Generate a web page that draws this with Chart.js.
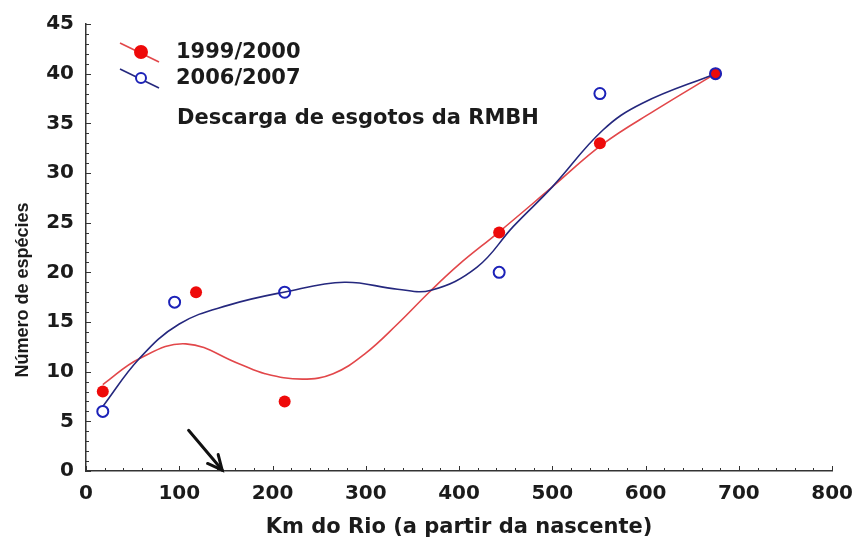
<!DOCTYPE html>
<html>
<head>
<meta charset="utf-8">
<script src="https://cdn.jsdelivr.net/npm/chart.js@4.4.1/dist/chart.umd.min.js"></script>
<style>
  html, body { margin: 0; padding: 0; background: #fff; }
  #wrap { width: 864px; height: 538px; }
</style>
</head>
<body>
<div id="wrap"><canvas id="grafico" width="864" height="538"></canvas></div>
<script>
// pontos observados (km do rio x numero de especies)
const kmRed = [18, 118, 213, 443, 551, 675];
const especiesRed = [8, 18, 7, 24, 33, 40];
const kmBlue = [18, 95, 213, 443, 551, 675];
const especiesBlue = [6, 17, 18, 20, 38, 40];

// curvas de ajuste
const curveKmRed = [18, 57, 107, 164, 192, 232, 265, 299, 334, 368, 400, 442, 500, 554, 610, 675];
const curveRed = [8.7, 11.3, 12.8, 10.8, 9.8, 9.25, 9.8, 11.8, 14.8, 18.0, 20.8, 24.0, 28.6, 32.9, 36.3, 40.0];
const curveKmBlue = [18, 57, 100, 153, 212, 277, 334, 370, 419, 458, 500, 554, 596, 675];
const curveBlue = [6.5, 11.3, 14.8, 16.7, 18.0, 19.0, 18.3, 18.2, 20.5, 24.6, 28.6, 34.3, 37.0, 40.0];

const seriesLabels = ['1999/2000', '2006/2007'];
const noteText = 'Descarga de esgotos da RMBH';
const xTitle = 'Km do Rio (a partir da nascente)';
const yTitle = 'Número de espécies';
const arrowFrom = [110, 4.1];
const arrowTo = [146, 0.1];

const RED = '#ee0a0a';
const RED_LINE = '#e2474a';
const BLUE = '#1c22b8';
const BLUE_LINE = '#25287e';
const INK = '#1b1b1b';

function pts(xs, ys) { return xs.map(function (x, i) { return { x: x, y: ys[i] }; }); }

const decor = {
  id: 'decor',
  beforeDatasetsDraw(chart) {
    const ctx = chart.ctx, xs = chart.scales.x, ys = chart.scales.y;
    ctx.save();
    ctx.strokeStyle = '#333';
    ctx.lineWidth = 1;
    // marcas para dentro
    for (let v = 0; v <= 800; v += 20) {
      const px = Math.round(xs.getPixelForValue(v)) + 0.5;
      const len = v % 100 === 0 ? 5 : 3;
      ctx.beginPath(); ctx.moveTo(px, ys.bottom); ctx.lineTo(px, ys.bottom - len); ctx.stroke();
    }
    for (let v = 0; v <= 45; v += 1) {
      const py = Math.round(ys.getPixelForValue(v)) + 0.5;
      const len = v % 5 === 0 ? 5 : 3;
      ctx.beginPath(); ctx.moveTo(xs.left, py); ctx.lineTo(xs.left + len, py); ctx.stroke();
    }
    ctx.restore();
  },
  afterDraw(chart) {
    const ctx = chart.ctx, xs = chart.scales.x, ys = chart.scales.y, a = chart.chartArea;
    ctx.save();
    // legenda
    const items = [
      { y: a.top + 28, line: RED_LINE, fill: RED, stroke: RED, r: 6 },
      { y: a.top + 54, line: BLUE_LINE, fill: '#fff', stroke: BLUE, r: 5 }
    ];
    items.forEach(function (it, i) {
      const cx = a.left + 55;
      ctx.strokeStyle = it.line; ctx.lineWidth = 1.6;
      ctx.beginPath(); ctx.moveTo(cx - 21, it.y - 9); ctx.lineTo(cx + 18, it.y + 10); ctx.stroke();
      ctx.beginPath(); ctx.arc(cx, it.y, it.r, 0, Math.PI * 2);
      ctx.fillStyle = it.fill; ctx.fill();
      ctx.lineWidth = 2; ctx.strokeStyle = it.stroke; ctx.stroke();
      ctx.fillStyle = INK;
      ctx.font = 'bold 21px "DejaVu Sans"';
      ctx.textBaseline = 'middle';
      ctx.textAlign = 'left';
      ctx.fillText(seriesLabels[i], a.left + 90, it.y + 1);
    });
    ctx.font = 'bold 21px "DejaVu Sans"';
    ctx.textBaseline = 'alphabetic';
    ctx.fillText(noteText, a.left + 91, a.top + 100);

    // titulo do eixo y
    ctx.save();
    ctx.translate(23, 290);
    ctx.rotate(-Math.PI / 2);
    ctx.font = 'bold 18px "Liberation Sans"';
    ctx.textAlign = 'center';
    ctx.textBaseline = 'middle';
    ctx.fillText(yTitle, 0, 0);
    ctx.restore();

    // seta
    const x0 = xs.getPixelForValue(arrowFrom[0]), y0 = ys.getPixelForValue(arrowFrom[1]);
    const x1 = xs.getPixelForValue(arrowTo[0]), y1 = ys.getPixelForValue(arrowTo[1]);
    const ang = Math.atan2(y1 - y0, x1 - x0);
    ctx.strokeStyle = '#111'; ctx.lineWidth = 3; ctx.lineCap = 'round';
    ctx.beginPath(); ctx.moveTo(x0, y0); ctx.lineTo(x1, y1); ctx.stroke();
    ctx.beginPath();
    ctx.moveTo(x1 - 16 * Math.cos(ang - 0.45), y1 - 16 * Math.sin(ang - 0.45));
    ctx.lineTo(x1, y1);
    ctx.lineTo(x1 - 16 * Math.cos(ang + 0.45), y1 - 16 * Math.sin(ang + 0.45));
    ctx.stroke();
    ctx.restore();
  }
};

new Chart(document.getElementById('grafico').getContext('2d'), {
  type: 'scatter',
  data: {
    datasets: [
      { label: seriesLabels[1], data: pts(kmBlue, especiesBlue), pointRadius: 5.5, pointBorderWidth: 2,
        pointBackgroundColor: 'rgba(255,255,255,0)', pointBorderColor: BLUE, showLine: false },
      { label: seriesLabels[0], data: pts(kmRed, especiesRed), pointRadius: 6, pointBorderWidth: 0,
        pointBackgroundColor: RED, pointBorderColor: RED, showLine: false },
      { label: 'ajuste 2006/2007', data: pts(curveKmBlue, curveBlue), showLine: true, pointRadius: 0,
        borderColor: BLUE_LINE, borderWidth: 1.6, tension: 0.4 },
      { label: 'ajuste 1999/2000', data: pts(curveKmRed, curveRed), showLine: true, pointRadius: 0,
        borderColor: RED_LINE, borderWidth: 1.6, tension: 0.4 }
    ]
  },
  options: {
    responsive: false,
    animation: false,
    layout: { padding: { top: 23, right: 26, left: 0, bottom: 0 } },
    plugins: { legend: { display: false }, tooltip: { enabled: false } },
    scales: {
      x: {
        type: 'linear', min: 0, max: 800,
        grid: { display: false, drawTicks: false },
        border: { display: true, color: '#333', width: 1.5 },
        ticks: { stepSize: 100, padding: 11, color: INK, font: { family: 'DejaVu Sans', weight: 'bold', size: 20 } },
        title: { display: true, text: xTitle, color: INK, padding: 0,
          font: { family: 'DejaVu Sans', weight: 'bold', size: 21, lineHeight: 1 } },
        afterFit: function (s) { s.height = 67; }
      },
      y: {
        type: 'linear', min: 0, max: 45,
        grid: { display: false, drawTicks: false },
        border: { display: true, color: '#333', width: 1.5 },
        ticks: { stepSize: 5, padding: 12, color: INK, font: { family: 'DejaVu Sans', weight: 'bold', size: 20 } },
        afterFit: function (s) { s.width = 86; }
      }
    }
  },
  plugins: [decor]
});
</script>
</body>
</html>
